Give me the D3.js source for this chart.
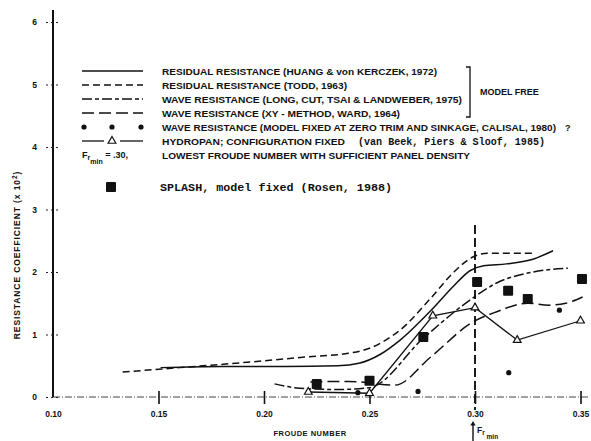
<!DOCTYPE html>
<html>
<head>
<meta charset="utf-8">
<script src="https://cdn.jsdelivr.net/npm/d3@7"></script>
<style>
  body { margin: 0; background: #fff; }
  text { font-family: "Liberation Sans", Arial, sans-serif; font-weight: bold; fill: #111; }
  .mono { font-family: "Liberation Mono", "Courier New", monospace; }
</style>
</head>
<body>
<div id="chart"></div>
<script>
// values (Froude number vs resistance coeff x 10^2)
const xTicks = [0.10, 0.15, 0.20, 0.25, 0.30, 0.35];
const xTickLabels = ['0.10', '0.15', '0.20', '0.25', '0.30', '0.35'];
const yTicks = [0, 1, 2, 3, 4, 5, 6];

const huang = [[0.151,0.47],[0.18,0.49],[0.21,0.49],[0.235,0.50],[0.245,0.54],[0.255,0.68],[0.2645,0.91],[0.279,1.38],[0.29,1.78],[0.2976,2.02],[0.304,2.10],[0.315,2.13],[0.327,2.20],[0.337,2.34]];
const todd = [[0.133,0.40],[0.16,0.47],[0.19,0.55],[0.22,0.64],[0.24,0.70],[0.25,0.78],[0.26,0.96],[0.2645,1.07],[0.279,1.58],[0.29,2.0],[0.299,2.24],[0.306,2.30],[0.3275,2.30]];
const longCut = [[0.205,0.21],[0.217,0.14],[0.235,0.12],[0.25,0.15],[0.2755,0.94],[0.2976,1.55],[0.31,1.82],[0.3275,2.0],[0.344,2.06]];
const xyWard = [[0.222,0.24],[0.24,0.25],[0.262,0.19],[0.279,0.64],[0.299,1.2],[0.31,1.36],[0.325,1.5],[0.335,1.47],[0.343,1.5],[0.351,1.6]];
const calisal = [[0.2445,0.07],[0.273,0.09],[0.316,0.39],[0.340,1.39]];
const hydropan = [[0.221,0.08],[0.25,0.06],[0.28,1.30],[0.30,1.43],[0.32,0.91],[0.35,1.22]];
const splash = [[0.225,0.21],[0.25,0.26],[0.2755,0.96],[0.301,1.84],[0.3157,1.70],[0.325,1.57],[0.3507,1.89]];
const frMin = 0.30;

const legendLabels = [
  'RESIDUAL RESISTANCE (HUANG & von KERCZEK, 1972)',
  'RESIDUAL RESISTANCE (TODD, 1963)',
  'WAVE RESISTANCE (LONG, CUT, TSAI & LANDWEBER, 1975)',
  'WAVE RESISTANCE (XY - METHOD, WARD, 1964)',
  'WAVE RESISTANCE (MODEL FIXED AT ZERO TRIM AND SINKAGE, CALISAL, 1980)',
  'HYDROPAN; CONFIGURATION FIXED',
  'LOWEST FROUDE NUMBER WITH SUFFICIENT PANEL DENSITY'
];
const legendWidths = [275, 185, 300, 238, 394, 183, 308];

const width = 591, height = 441;

const svg = d3.select('#chart').append('svg')
  .attr('width', width)
  .attr('height', height);

const x = d3.scaleLinear().domain([0.10, 0.35]).range([53, 580.5]);
const y = d3.scaleLinear().domain([0, 6]).range([397, 22]);

// x axis: dash-dot base line + bar ticks
svg.append('line')
  .attr('x1', x(0.10)).attr('x2', 590)
  .attr('y1', y(0)).attr('y2', y(0))
  .attr('stroke', '#444').attr('stroke-width', 1)
  .attr('stroke-dasharray', '7,2,1,2');

const xAxis = d3.axisBottom(x)
  .tickValues(xTicks)
  .tickFormat((d, i) => xTickLabels[i])
  .tickSize(7)
  .tickPadding(7);

svg.append('g')
  .attr('class', 'x-axis')
  .attr('transform', 'translate(0,' + y(0) + ')')
  .call(xAxis)
  .call(g => g.select('.domain').remove())
  .call(g => g.selectAll('.tick line')
    .attr('y1', -6)
    .attr('stroke', '#111')
    .attr('stroke-width', 1.6)
    .attr('opacity', d => d == 0.10 ? 0 : 1))
  .call(g => g.selectAll('.tick text')
    .attr('font-size', 8.5)
    .attr('font-family', '"Liberation Sans", Arial, sans-serif')
    .attr('font-weight', 'bold'));

// y axis
svg.append('line')
  .attr('x1', x(0.10)).attr('x2', x(0.10))
  .attr('y1', 10).attr('y2', y(0))
  .attr('stroke', '#111').attr('stroke-width', 2);

const yAxis = d3.axisLeft(y)
  .tickValues(yTicks)
  .tickFormat(d3.format('d'))
  .tickSize(7)
  .tickPadding(9);

svg.append('g')
  .attr('class', 'y-axis')
  .attr('transform', 'translate(' + x(0.10) + ',0)')
  .call(yAxis)
  .call(g => g.select('.domain').remove())
  .call(g => g.selectAll('.tick line')
    .attr('x2', 5).attr('x1', -7)
    .attr('stroke', '#222')
    .attr('stroke-dasharray', '2,3'))
  .call(g => g.selectAll('.tick text')
    .attr('font-size', 8.5)
    .attr('font-family', '"Liberation Sans", Arial, sans-serif')
    .attr('font-weight', 'bold'));

// axis titles
svg.append('text')
  .attr('x', 310).attr('y', 436)
  .attr('text-anchor', 'middle')
  .attr('font-size', 7.5)
  .attr('letter-spacing', 0.5)
  .text('FROUDE NUMBER');

const yTitle = svg.append('text')
  .attr('transform', 'translate(20,255) rotate(-90)')
  .attr('text-anchor', 'middle')
  .attr('font-size', 8.5)
  .attr('letter-spacing', 0.9);
yTitle.append('tspan').text('RESISTANCE COEFFICIENT (x 10');
yTitle.append('tspan').attr('dy', -3).attr('font-size', 6.5).text('2');
yTitle.append('tspan').attr('dy', 3).text(')');

// Fr min marker
svg.append('line')
  .attr('x1', x(frMin)).attr('x2', x(frMin))
  .attr('y1', 225).attr('y2', 410)
  .attr('stroke', '#111').attr('stroke-width', 1.9)
  .attr('stroke-dasharray', '9,4');

svg.append('line')
  .attr('x1', x(frMin) - 2).attr('x2', x(frMin) - 2)
  .attr('y1', 441).attr('y2', 424)
  .attr('stroke', '#111').attr('stroke-width', 1.4);
svg.append('path')
  .attr('d', d3.symbol(d3.symbolTriangle, 12)())
  .attr('transform', 'translate(' + (x(frMin) - 2) + ',424)')
  .attr('fill', '#111');
const frLbl = svg.append('text').attr('x', x(frMin) + 2).attr('y', 433).attr('font-size', 8.5);
frLbl.append('tspan').text('F');
frLbl.append('tspan').attr('dy', 2).attr('font-size', 6.5).text('r');
frLbl.append('tspan').attr('dy', 4).attr('font-size', 6.5).text(' min');

// curves
const line = d3.line()
  .x(d => x(d[0]))
  .y(d => y(d[1]))
  .curve(d3.curveMonotoneX);
const straight = d3.line()
  .x(d => x(d[0]))
  .y(d => y(d[1]));

const styles = {
  huang: null,
  todd: '7,4',
  longCut: '10,3,4,3',
  xyWard: '12,5'
};

[[huang, styles.huang], [todd, styles.todd], [longCut, styles.longCut], [xyWard, styles.xyWard]].forEach(function(s) {
  svg.append('path')
    .datum(s[0])
    .attr('d', line)
    .attr('fill', 'none')
    .attr('stroke', '#111')
    .attr('stroke-width', 1.5)
    .attr('stroke-dasharray', s[1]);
});

svg.append('path')
  .datum(hydropan)
  .attr('d', straight)
  .attr('fill', 'none')
  .attr('stroke', '#111')
  .attr('stroke-width', 1.3);

svg.selectAll('.tri')
  .data(hydropan)
  .enter().append('path')
  .attr('class', 'tri')
  .attr('d', d3.symbol(d3.symbolTriangle, 26)())
  .attr('transform', d => 'translate(' + x(d[0]) + ',' + y(d[1]) + ')')
  .attr('fill', '#fff')
  .attr('stroke', '#111')
  .attr('stroke-width', 1.2);

svg.selectAll('.dot')
  .data(calisal)
  .enter().append('circle')
  .attr('class', 'dot')
  .attr('cx', d => x(d[0]))
  .attr('cy', d => y(d[1]))
  .attr('r', 2.6)
  .attr('fill', '#111');

svg.selectAll('.sq')
  .data(splash)
  .enter().append('rect')
  .attr('class', 'sq')
  .attr('x', d => x(d[0]) - 5)
  .attr('y', d => y(d[1]) - 5)
  .attr('width', 10)
  .attr('height', 10)
  .attr('rx', 1)
  .attr('fill', '#111');

// legend
const lx1 = 82, lx2 = 143, tx = 162;
const rowY = [71, 85, 99, 113, 127, 141, 155];
const lg = svg.append('g').attr('class', 'legend');

[styles.huang, styles.todd, styles.longCut, styles.xyWard].forEach(function(dash, i) {
  lg.append('line')
    .attr('x1', lx1).attr('x2', lx2)
    .attr('y1', rowY[i]).attr('y2', rowY[i])
    .attr('stroke', '#111').attr('stroke-width', 1.5)
    .attr('stroke-dasharray', dash);
});
[84, 112, 141].forEach(function(cx) {
  lg.append('circle').attr('cx', cx).attr('cy', rowY[4]).attr('r', 2.6).attr('fill', '#111');
});
lg.append('line').attr('x1', lx1).attr('x2', 104).attr('y1', rowY[5]).attr('y2', rowY[5])
  .attr('stroke', '#111').attr('stroke-width', 1.3);
lg.append('line').attr('x1', 120).attr('x2', lx2).attr('y1', rowY[5]).attr('y2', rowY[5])
  .attr('stroke', '#111').attr('stroke-width', 1.3);
lg.append('path')
  .attr('d', d3.symbol(d3.symbolTriangle, 26)())
  .attr('transform', 'translate(112,' + rowY[5] + ')')
  .attr('fill', '#fff').attr('stroke', '#111').attr('stroke-width', 1.2);

const frLeg = lg.append('text').attr('x', 82).attr('y', rowY[6] + 3).attr('font-size', 9);
frLeg.append('tspan').text('F');
frLeg.append('tspan').attr('dy', 2).attr('font-size', 7).text('r');
frLeg.append('tspan').attr('dy', 4).attr('font-size', 7).text('min');
frLeg.append('tspan').attr('dy', -6).text(' = .30,');

lg.append('rect')
  .attr('x', 106).attr('y', 182).attr('width', 10).attr('height', 10).attr('rx', 1)
  .attr('fill', '#111');

legendLabels.forEach(function(lbl, i) {
  lg.append('text')
    .attr('x', tx).attr('y', rowY[i] + 3.5)
    .attr('font-size', 9)
    .attr('textLength', legendWidths[i])
    .attr('lengthAdjust', 'spacingAndGlyphs')
    .text(lbl);
});
lg.append('text')
  .attr('class', 'mono')
  .attr('x', 358).attr('y', rowY[5] + 3.5)
  .attr('font-size', 10)
  .attr('textLength', 187)
  .attr('lengthAdjust', 'spacingAndGlyphs')
  .text('(van Beek, Piers & Sloof, 1985)');
lg.append('text')
  .attr('x', 565).attr('y', rowY[4] + 3.5)
  .attr('font-size', 9)
  .text('?');
lg.append('text')
  .attr('class', 'mono')
  .attr('x', 160).attr('y', 191)
  .attr('font-size', 10.5)
  .attr('textLength', 232)
  .attr('lengthAdjust', 'spacingAndGlyphs')
  .text('SPLASH, model fixed (Rosen, 1988)');

// "model free" bracket
lg.append('path')
  .attr('d', 'M466,67 L470,67 L470,117 L466,117')
  .attr('fill', 'none').attr('stroke', '#111').attr('stroke-width', 1.3);
lg.append('text')
  .attr('x', 480).attr('y', 95)
  .attr('font-size', 9)
  .text('MODEL FREE');
</script>
</body>
</html>
